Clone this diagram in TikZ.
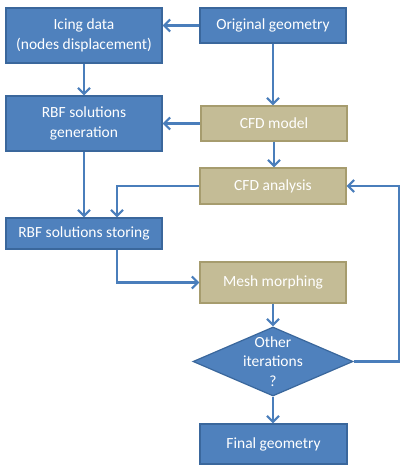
\documentclass[tikz,border=0pt]{standalone}
\usepackage{fontspec}
\setmainfont{Carlito}
\usepackage{tikz}
\usetikzlibrary{calc, arrows.meta, shapes.geometric}

\definecolor{boxblue}{HTML}{4F81BD}
\definecolor{lineblue}{HTML}{3A679C}
\definecolor{boxtan}{HTML}{C4BC96}
\definecolor{linetan}{HTML}{A69C6E}
\definecolor{arrowblue}{HTML}{4A7EBB}

\begin{document}
\begin{tikzpicture}[x = 1pt, y = -1pt,
		every node/.style = {text = white, align = center, inner sep = 0pt,
			font = \fontsize{15.5}{19.5}\selectfont},
		blockblue/.style = {draw = lineblue, fill = boxblue, line width = 1.2pt},
		blocktan/.style = {draw = linetan, fill = boxtan, line width = 1.2pt},
		flow/.style = {draw = arrowblue, line width = 2.2pt,
			-{Straight Barb[length = 6pt, width = 12pt]}}]
					\useasboundingbox (0,0) rectangle (405,475);

					\begin{scope}
						\node [blockblue, minimum width = 156, minimum height = 55] (icing) at (84,35.5) {Icing data\\(nodes displacement)};
						\node [blockblue, minimum width = 146, minimum height = 35] (orig) at (273,25.5) {Original geometry};
						\node [blockblue, minimum width = 156, minimum height = 55] (gen) at (84,123.5) {RBF solutions\\generation};
						\node [blockblue, minimum width = 156, minimum height = 31] (store) at (84,233.5) {RBF solutions storing};
						\node [blockblue, minimum width = 147, minimum height = 40] (final) at (273.5,444) {Final geometry};
					\end{scope}

					\begin{scope}
						\node [blocktan, minimum width = 146, minimum height = 35] (model) at (274,123.5) {CFD model};
						\node [blocktan, minimum width = 146, minimum height = 36] (analysis) at (273,186) {CFD analysis};
						\node [blocktan, minimum width = 146, minimum height = 41] (morph) at (273,282.5) {Mesh morphing};
					\end{scope}

					\node [blockblue, diamond, minimum width = 160, minimum height = 69,
						label = {center:Other\\iterations\\?}] (iter) at (273,361.5) {};

					\coordinate (jog) at ($(store.north west)!0.71!(store.north east)$);

					\begin{scope}[flow]
						\draw (orig.west) -- (orig.west -| icing.east);
						\draw (icing) -- (gen);
						\draw (orig.south) -- (orig.south |- model.north);
						\draw (model) -- (gen);
						\draw (model.south) -- (model.south |- analysis.north);
						\draw (gen) -- (store);
						\draw (analysis.west) -| (jog);
						\draw (jog |- store.south) |- (morph.west);
						\draw (morph.south) -- (morph.south |- iter.north);
						\draw (iter.east) -- ++(45,0) |- (analysis.east);
						\draw (iter.south) -- (iter.south |- final.north);
					\end{scope}
				\end{tikzpicture}
\end{document}
